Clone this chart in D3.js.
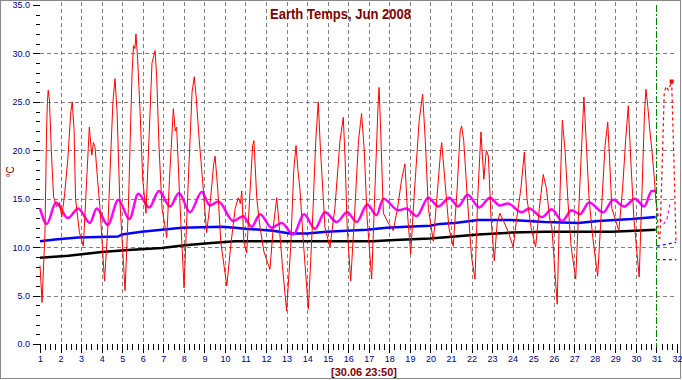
<!DOCTYPE html>
<html><head><meta charset="utf-8">
<script src="https://cdn.jsdelivr.net/npm/d3@7/dist/d3.min.js"></script>
<style>
html,body{margin:0;padding:0;background:#fff;}
svg{display:block;}
text{font-family:"Liberation Sans",Arial,sans-serif;}
</style></head><body>
<script>
// ---------- data ----------
const title = "Earth Temps, Jun 2008";
const stampLabel = "[30.06 23:50]";
const unitLabel = "°C";
const dayTicks = d3.range(1, 33);                 // 1..32
const tempTicks = [0, 5, 10, 15, 20, 25, 30, 35];
const nowDay = 31;

// air temperature (red), [day, °C]
const airTemp = [
 [1.00,8.1],[1.10,4.3],[1.24,11.4],[1.32,22.0],[1.36,25.0],[1.40,26.2],[1.46,25.2],[1.55,20.0],[1.66,15.2],[1.81,14.2],[1.95,14.6],[2.06,13.1],
 [2.20,15.5],[2.35,19.0],[2.50,24.0],[2.57,25.0],[2.66,22.0],[2.73,15.0],[2.92,11.5],[3.11,10.1],
 [3.25,16.0],[3.40,22.4],[3.52,19.5],[3.60,20.8],[3.68,20.3],[3.80,17.0],[3.92,14.0],[4.14,6.5],
 [4.30,12.0],[4.45,20.0],[4.55,25.0],[4.65,27.4],[4.75,24.0],[4.88,15.0],[5.14,5.5],
 [5.30,14.0],[5.48,28.0],[5.55,30.8],[5.62,30.5],[5.67,32.0],[5.75,29.5],[5.87,24.0],[6.00,17.0],[6.16,13.5],
 [6.30,21.0],[6.45,29.0],[6.60,30.3],[6.68,27.5],[6.80,20.0],[6.94,14.0],[7.17,11.0],
 [7.30,17.0],[7.49,24.3],[7.58,22.0],[7.65,22.4],[7.80,15.0],[8.01,5.8],
 [8.20,16.0],[8.40,26.0],[8.51,27.6],[8.60,25.5],[8.75,21.0],[8.87,18.0],[9.11,11.5],
 [9.30,15.0],[9.45,18.5],[9.52,19.4],[9.65,16.0],[9.80,10.5],[10.09,6.0],
 [10.30,10.5],[10.50,14.0],[10.65,15.1],[10.75,14.5],[10.82,15.8],[10.92,10.5],[11.06,9.4],
 [11.20,15.0],[11.35,20.5],[11.41,21.0],[11.55,15.0],[11.71,12.0],[11.90,9.5],[12.19,7.7],
 [12.35,12.0],[12.52,15.1],[12.65,12.0],[12.80,8.0],[13.00,3.4],
 [13.20,10.0],[13.35,18.0],[13.46,20.5],[13.55,18.0],[13.65,16.0],[13.80,11.0],[14.06,3.6],
 [14.25,12.0],[14.42,21.0],[14.54,25.0],[14.65,20.0],[14.87,12.0],[15.11,10.0],
 [15.35,14.0],[15.60,21.0],[15.76,23.4],[15.85,19.0],[15.95,12.0],[16.12,6.5],
 [16.30,13.0],[16.50,21.0],[16.65,23.8],[16.78,20.0],[16.92,13.0],[17.14,6.7],
 [17.30,16.0],[17.45,24.5],[17.50,26.5],[17.58,22.0],[17.71,13.5],[17.95,12.5],[18.19,11.7],
 [18.40,14.0],[18.60,17.0],[18.76,18.6],[18.90,13.0],[19.04,9.3],
 [19.20,15.0],[19.45,23.0],[19.62,25.8],[19.75,21.0],[19.90,14.0],[20.14,10.6],
 [20.35,16.0],[20.50,20.0],[20.55,20.8],[20.70,17.0],[20.90,12.0],[21.11,10.1],
 [21.30,16.0],[21.45,22.0],[21.52,22.5],[21.62,21.0],[21.80,15.0],[22.00,9.0],[22.17,6.7],
 [22.30,15.0],[22.46,21.9],[22.60,17.0],[22.72,20.0],[22.82,19.4],[22.95,13.0],[23.11,8.6],
 [23.25,12.5],[23.38,13.5],[23.60,12.5],[23.80,11.5],[24.03,10.0],
 [24.20,13.0],[24.40,16.0],[24.57,19.8],[24.70,15.0],[24.90,12.0],[25.12,10.0],
 [25.30,14.0],[25.49,17.5],[25.65,16.0],[25.80,13.0],[25.91,12.0],[26.17,4.1],
 [26.30,15.0],[26.42,23.1],[26.55,20.0],[26.70,14.5],[26.85,10.0],[27.07,6.7],
 [27.20,13.0],[27.35,20.0],[27.47,25.5],[27.58,21.0],[27.72,15.0],[27.90,11.0],[28.14,7.0],
 [28.30,13.0],[28.50,20.5],[28.63,22.9],[28.72,19.0],[28.83,14.0],[29.17,11.7],
 [29.35,16.0],[29.50,21.0],[29.63,24.6],[29.75,19.0],[29.90,13.0],[30.16,6.9],
 [30.30,16.0],[30.42,24.0],[30.49,26.3],[30.58,24.5],[30.68,22.0],[30.78,20.0],[30.90,17.0],[30.98,14.5]
];
// deeper earth temperature (magenta)
const earthShallow = [
 [1.00,14.0],[1.33,12.4],[1.78,14.6],[2.36,13.0],[2.86,14.0],[3.43,12.5],[3.76,14.0],[4.30,12.3],[4.81,14.9],[5.35,12.9],
 [5.78,15.5],[6.32,14.1],[6.79,15.8],[7.33,14.2],[7.76,15.6],[8.30,13.6],[8.87,15.7],[9.27,14.3],[9.68,14.7],[10.41,12.7],
 [10.89,13.2],[11.30,12.1],[11.71,13.4],[12.27,12.0],[12.76,12.5],[13.33,11.3],[13.85,13.4],[14.38,11.9],[14.87,13.6],[15.44,12.6],
 [15.95,13.6],[16.41,12.6],[16.93,14.4],[17.38,13.3],[17.71,15.0],[18.44,13.8],[18.84,14.0],[19.33,13.2],[19.90,15.1],[20.38,14.2],
 [20.92,15.1],[21.35,14.2],[21.81,15.4],[22.38,14.1],[22.90,15.1],[23.38,14.3],[23.77,14.5],[24.44,13.6],[24.81,14.0],[25.44,13.1],
 [25.90,13.9],[26.42,12.7],[26.87,13.8],[27.28,13.4],[27.72,14.6],[28.41,13.6],[28.90,14.9],[29.43,14.2],[29.95,15.0],[30.41,14.2],
 [30.77,15.8],[30.96,15.8]
];
// earth temperature, blue
const earthMid = [
 [1.00,10.6],[1.73,10.8],[2.86,11.0],[4.80,11.1],[4.98,11.3],[5.95,11.6],[6.92,11.8],[7.90,12.0],[9.84,12.1],[10.49,12.0],
 [10.98,11.9],[12.34,11.7],[13.17,11.4],[13.98,11.4],[14.95,11.6],[16.90,11.8],[17.87,12.0],[18.84,12.1],[19.98,12.2],[20.46,12.4],
 [21.19,12.5],[22.33,12.8],[23.95,12.8],[25.57,12.6],[27.19,12.5],[28.17,12.7],[29.79,12.9],[30.96,13.1]
];
// earth temperature, black
const earthDeep = [
 [1.00,8.9],[2.38,9.1],[4.00,9.5],[5.30,9.7],[6.92,9.9],[8.06,10.2],[9.19,10.4],[10.49,10.6],[17.20,10.6],[18.03,10.7],
 [18.84,10.8],[19.98,10.9],[21.19,11.1],[22.33,11.3],[23.95,11.5],[25.57,11.6],[28.82,11.6],[29.95,11.7],[30.96,11.8]
];
// forecast (dotted) after the current moment
const airForecast = [[31.02,14.1],[31.10,11.0],[31.17,10.9],[31.30,20.0],[31.38,26.0],[31.48,26.6],[31.58,26.2],[31.74,27.1],[31.85,19.0],[31.95,10.6]];
const shallowForecast = [[31.02,14.1],[31.10,13.1],[31.36,12.4],[31.52,13.0],[31.65,14.4],[31.77,14.5]];
const midForecast = [[31.02,10.1],[31.95,10.5]];
const deepForecast = [[31.02,8.7],[31.97,8.7]];

// ---------- drawing ----------
const W = 682, H = 380;
const svg = d3.select("body").append("svg").attr("width", W).attr("height", H);

const x = d3.scaleLinear().domain([1, 32]).range([40, 677]);
const y = d3.scaleLinear().domain([0, 35]).range([344, 5]);

// outer frame
svg.append("rect").attr("x",0.5).attr("y",0.5).attr("width",680).attr("height",378)
  .attr("fill","#fff").attr("stroke","#888").attr("stroke-width",1);

// grid
const grid = svg.append("g").attr("stroke","#808080").attr("stroke-width",1)
  .attr("stroke-dasharray","4,3").attr("shape-rendering","crispEdges");
grid.selectAll(".vg").data(dayTicks.filter(d => d > 1 && d < 32 && d !== nowDay)).join("line")
  .attr("x1", d => Math.round(x(d)) + 0.5).attr("x2", d => Math.round(x(d)) + 0.5)
  .attr("y1", 2).attr("y2", y(0));
grid.selectAll(".hg").data(tempTicks.filter(t => t > 0 && t < 35)).join("line")
  .attr("y1", t => Math.round(y(t)) + 0.5).attr("y2", t => Math.round(y(t)) + 0.5)
  .attr("x1", x(1)).attr("x2", x(32));

// axes
const axisColor = "#000080";
function styleAxis(g){
  g.select(".domain").remove();
  g.selectAll("line").attr("stroke","#000").attr("shape-rendering","crispEdges");
  g.selectAll("text").attr("fill",axisColor).style("font-size","9px");
}
svg.append("g").attr("transform",`translate(${x(1)},0)`)
  .call(d3.axisLeft(y).tickValues(d3.range(0, 36, 1)).tickSize(4).tickFormat(""))
  .call(styleAxis);
svg.append("g").attr("transform",`translate(${x(1)},0)`)
  .call(d3.axisLeft(y).tickValues(tempTicks).tickSize(7).tickPadding(3).tickFormat(d3.format(".1f")))
  .call(styleAxis);
svg.append("g").attr("transform",`translate(0,${y(0)})`)
  .call(d3.axisBottom(x).tickValues(d3.range(1, 32.01, 0.25)).tickSize(6).tickFormat(""))
  .call(styleAxis);
svg.append("g").attr("transform",`translate(0,${y(0)})`)
  .call(d3.axisBottom(x).tickValues(dayTicks).tickSize(9).tickPadding(2.5).tickFormat(d3.format("d")))
  .call(styleAxis);

// series
const line = d3.line().x(d => x(d[0])).y(d => y(d[1]));
const smooth = d3.line().curve(d3.curveMonotoneX).x(d => x(d[0])).y(d => y(d[1]));

function draw(data, gen, color, width, dash){
  svg.append("path").datum(data).attr("d", gen).attr("fill","none")
    .attr("stroke", color).attr("stroke-width", width)
    .attr("stroke-linejoin","round")
    .attr("stroke-dasharray", dash || null);
}
draw(earthDeep, line, "#000000", 2.5);
draw(earthMid, line, "#0000ff", 2.5);
draw(earthShallow, smooth, "#ff00ff", 2.5);
draw(airTemp, line, "#ff0000", 1);

draw(deepForecast, line, "#000000", 1.2, "3,3");
draw(midForecast, line, "#0000ff", 1.2, "3,3");
draw(shallowForecast, line, "#ff00ff", 1.2, "3,3");
draw(airForecast, line, "#ff0000", 1.2, "3,3");
const peak = airForecast.reduce((a, b) => b[1] > a[1] ? b : a);
svg.append("rect").attr("x", x(peak[0]) - 2).attr("y", y(peak[1]) - 2)
  .attr("width", 4).attr("height", 4).attr("fill", "#ff0000");

// current-time marker
svg.append("line").attr("x1", Math.round(x(nowDay)) + 0.5).attr("x2", Math.round(x(nowDay)) + 0.5)
  .attr("y1", 5).attr("y2", y(0) + 3)
  .attr("stroke","#008000").attr("stroke-width",1).attr("stroke-dasharray","7,2,2,2")
  .attr("shape-rendering","crispEdges");

// labels
svg.append("text").attr("x", 340.5).attr("y", 18.5).attr("text-anchor","middle")
  .attr("fill","#800000").style("font-size","15px").style("font-weight","bold")
  .attr("textLength",141).attr("lengthAdjust","spacingAndGlyphs").text(title);
svg.append("text").attr("x", 364).attr("y", 375.5).attr("text-anchor","middle")
  .attr("fill","#800000").style("font-size","11.5px").style("font-weight","bold")
  .attr("textLength",66).attr("lengthAdjust","spacingAndGlyphs").text(stampLabel);
svg.append("text").attr("transform","translate(14,172) rotate(-90)").attr("text-anchor","middle")
  .attr("fill","#800000").style("font-size","10px").text(unitLabel);
</script>
</body></html>
